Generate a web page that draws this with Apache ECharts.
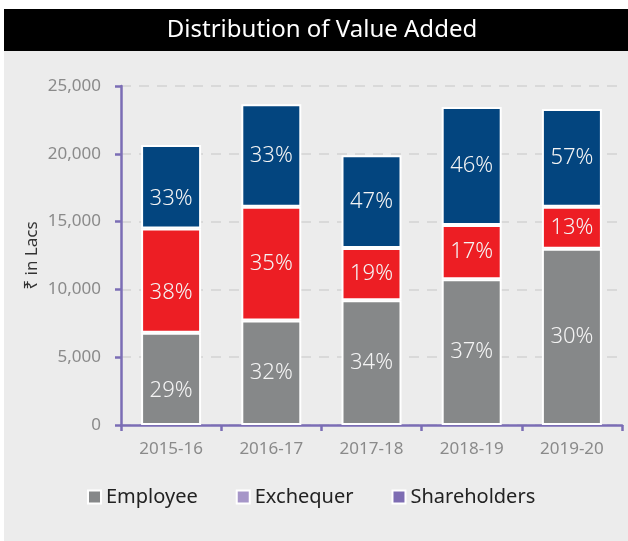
<!DOCTYPE html>
<html>
<head>
<meta charset="utf-8">
<script src="https://cdn.jsdelivr.net/npm/echarts@6/dist/echarts.min.js"></script>
<style>
    html, body {margin: 0; padding: 0; background: #fff;}
    #chart {width: 628px; height: 541px;}
</style>
</head>
<body>
<div id="chart"></div>
<script>
// 年度
var years = ['2015-16', '2016-17', '2017-18', '2018-19', '2019-20'];
// 金额 (₹ in Lacs)
var employee = [6800, 7700, 9200, 10750, 13000];
var exchequer = [7700, 8400, 3850, 4000, 3100];
var shareholders = [6150, 7550, 6850, 8700, 7200];
// 柱内百分比
var employeePct = ['29%', '32%', '34%', '37%', '30%'];
var exchequerPct = ['38%', '35%', '19%', '17%', '13%'];
var shareholdersPct = ['33%', '33%', '47%', '46%', '57%'];

var font = '"Noto Sans", "DejaVu Sans", sans-serif';
var axisPurple = '#7b6db5';

function makeSeries(name, values, pcts, color) {
    var data = [];
    for (let i = 0; i < values.length; i++) {
        let item = {value: values[i], pct: pcts[i]};
        // 第一根柱子的标签偏下
        if (i === 0) {
            item.label = {offset: [0, 12]};
        }
        data.push(item);
    }
    return {
        name: name,
        type: 'bar',
        stack: 'total',
        barWidth: 60,
        itemStyle: {color: color, borderColor: '#fff', borderWidth: 2},
        label: {
            show: true,
            position: 'inside',
            color: '#f4f4f4',
            fontSize: 22,
            fontWeight: 300,
            fontFamily: font,
            formatter: function (p) {
                return p.data.pct;
            }
        },
        data: data
    };
}

var myChart = echarts.init(document.getElementById('chart'));
myChart.setOption({
    animation: false,
    graphic: [
        {type: 'rect', shape: {x: 4, y: 51, width: 624, height: 490}, style: {fill: '#ececec'}, z: -10},
        {type: 'rect', shape: {x: 4, y: 9, width: 624, height: 42}, style: {fill: '#000'}, z: -10}
    ],
    title: {
        text: 'Distribution of Value Added',
        left: 317,
        textAlign: 'center',
        top: 13,
        textStyle: {color: '#fff', fontSize: 24, fontWeight: 'normal', fontFamily: font}
    },
    legend: {
        left: 82,
        top: 482,
        itemWidth: 13,
        itemHeight: 13,
        itemGap: 38,
        icon: 'rect',
        textStyle: {color: '#222', fontSize: 20, fontFamily: font, padding: [2, 0, 0, 0]},
        data: [
            {name: 'Employee', itemStyle: {color: '#868889', borderColor: '#fff', borderWidth: 2}},
            {name: 'Exchequer', itemStyle: {color: '#a696c8', borderColor: '#fff', borderWidth: 2}},
            {name: 'Shareholders', itemStyle: {color: '#7e6db3', borderColor: '#fff', borderWidth: 2}}
        ]
    },
    grid: {left: 121, right: 6, top: 86, bottom: 116},
    xAxis: {
        type: 'category',
        data: years,
        axisLine: {lineStyle: {color: axisPurple, width: 2.5}},
        axisTick: {show: true, length: 6, lineStyle: {color: axisPurple, width: 2.5}},
        axisLabel: {color: '#8a8a8a', fontSize: 17, fontFamily: font, margin: 16}
    },
    yAxis: {
        type: 'value',
        min: 0,
        max: 25000,
        interval: 5000,
        name: '₹ in Lacs',
        nameLocation: 'middle',
        nameGap: 80,
        nameMoveOverlap: false,
        nameTextStyle: {color: '#333', fontSize: 17, fontFamily: font},
        axisLine: {show: true, lineStyle: {color: axisPurple, width: 2.5}},
        axisTick: {show: true, length: 6, lineStyle: {color: axisPurple, width: 2.5}},
        axisLabel: {
            color: '#8a8a8a', fontSize: 17, fontFamily: font, margin: 20,
            formatter: function (v) {
                return v.toLocaleString('en-US');
            }
        },
        splitLine: {lineStyle: {color: '#d9d9d9', width: 2, type: [10, 8]}}
    },
    series: [
        makeSeries('Employee', employee, employeePct, '#868889'),
        makeSeries('Exchequer', exchequer, exchequerPct, '#ed1e24'),
        makeSeries('Shareholders', shareholders, shareholdersPct, '#03457f')
    ]
});
</script>
</body>
</html>
